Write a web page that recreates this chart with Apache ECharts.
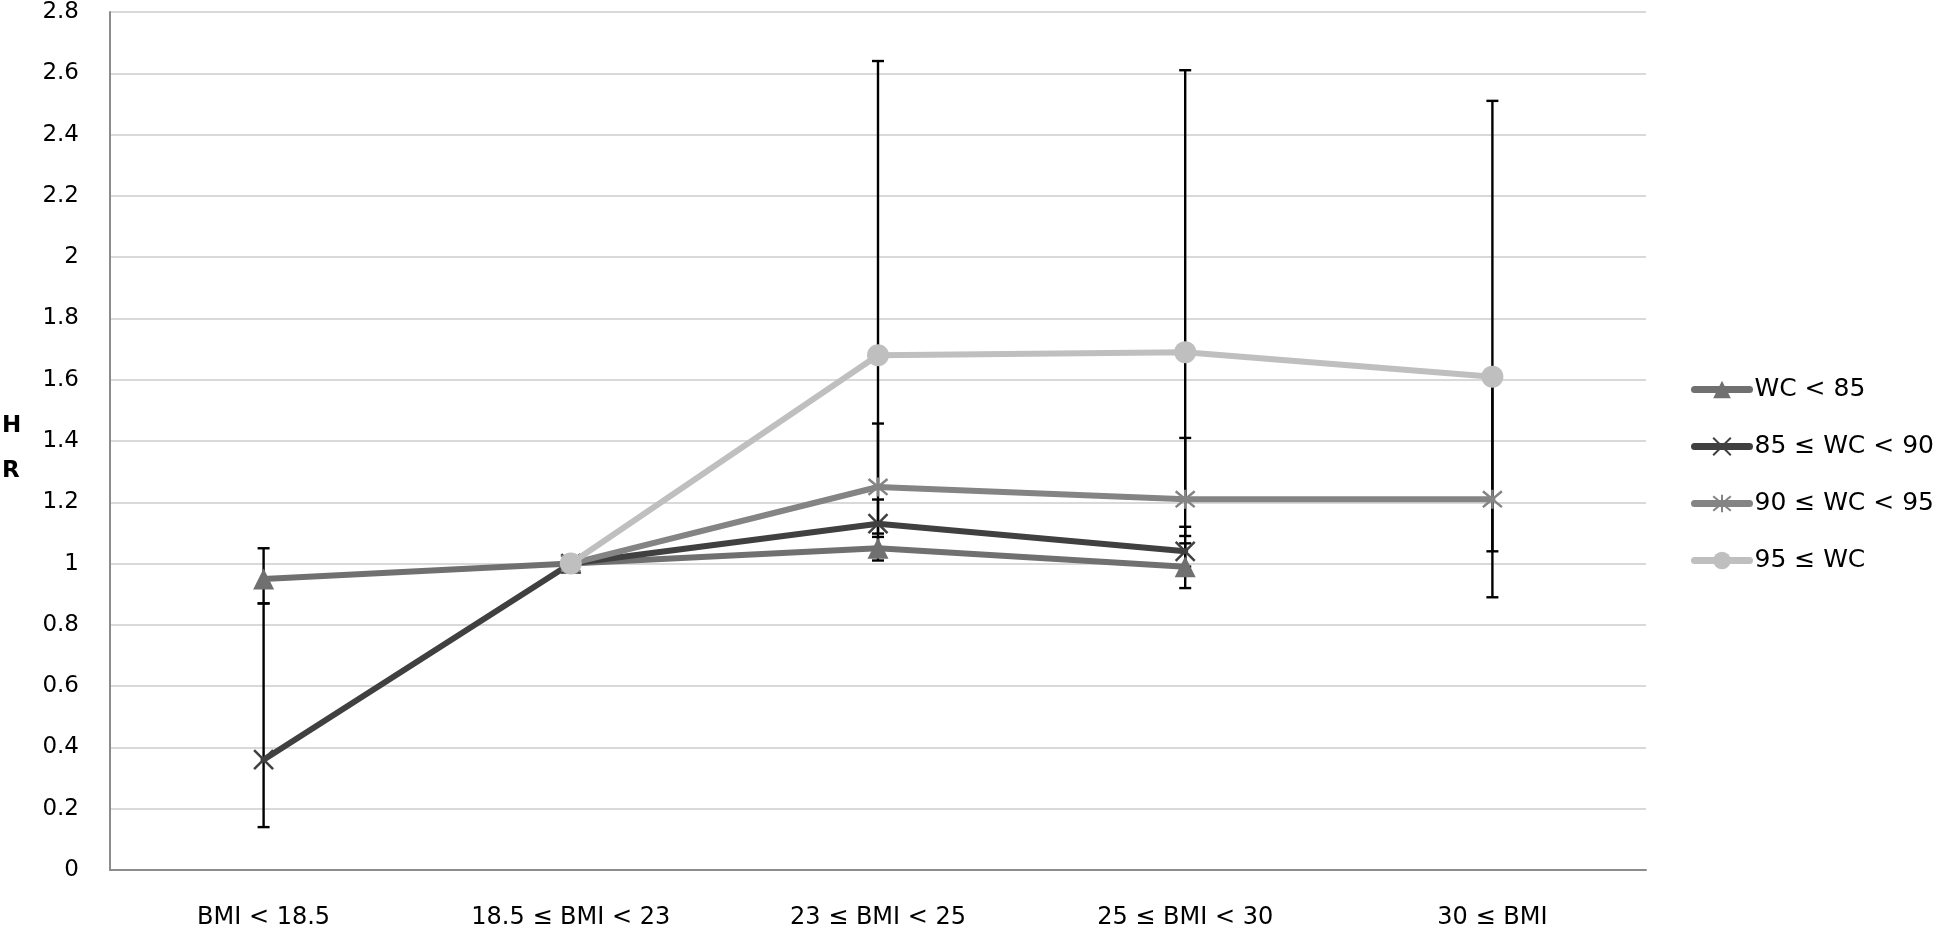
<!DOCTYPE html>
<html>
<head>
<meta charset="utf-8">
<script src="https://cdn.jsdelivr.net/npm/echarts@6/dist/echarts.min.js"></script>
<style>
html,body{margin:0;padding:0;background:#fff;}
#chart{width:1946px;height:931px;}
</style>
</head>
<body>
<div id="chart"></div>
<script>
const categories = ['BMI < 18.5', '18.5 ≤ BMI < 23', '23 ≤ BMI < 25', '25 ≤ BMI < 30', '30 ≤ BMI'];
const seriesNames = ['WC < 85', '85 ≤ WC < 90', '90 ≤ WC < 95', '95 ≤ WC'];

const wc85 = [0.95, 1.0, 1.05, 0.99, null];
const wc85Low = [0.87, null, 1.01, 0.92, null];
const wc85High = [1.05, null, 1.087, 1.066, null];

const wc85to90 = [0.36, 1.0, 1.13, 1.04, null];
const wc85to90Low = [0.14, null, 1.05, 0.99, null];
const wc85to90High = [0.87, null, 1.209, 1.12, null];

const wc90to95 = [null, 1.0, 1.25, 1.21, 1.21];
const wc90to95Low = [null, null, 1.098, 1.09, 0.89];
const wc90to95High = [null, null, 1.457, 1.41, 1.61];

const wc95 = [null, 1.0, 1.68, 1.69, 1.61];
const wc95Low = [null, null, 1.25, 1.21, 1.04];
const wc95High = [null, null, 2.64, 2.61, 2.51];

const yTicks = {min: 0, max: 2.8, interval: 0.2};

const colors = ['#707070', '#404040', '#848484', '#bfbfbf'];

function ciData(lo, hi) {
  const out = [];
  for (let i = 0; i < lo.length; i++) {
    if (lo[i] != null && hi[i] != null) out.push([i, lo[i], hi[i]]);
  }
  return out;
}
const allCI = [].concat(
  ciData(wc85Low, wc85High),
  ciData(wc85to90Low, wc85to90High),
  ciData(wc90to95Low, wc90to95High),
  ciData(wc95Low, wc95High)
);

const font = "'DejaVu Sans', 'Noto Sans', sans-serif";
const chart = echarts.init(document.getElementById('chart'), null, {renderer: 'canvas'});

function lineSeries(name, data, color, symbol, size, extra) {
  return Object.assign({
    name: name,
    type: 'line',
    data: data,
    symbol: symbol,
    symbolSize: size,
    showAllSymbol: true,
    connectNulls: false,
    lineStyle: {color: color, width: 6, cap: 'round', join: 'round'},
    itemStyle: {color: color, borderColor: color, borderWidth: 0},
    z: 3,
    animation: false
  }, extra || {});
}

const option = {
  animation: false,
  backgroundColor: '#fff',
  grid: {left: 110, right: 300, top: 12, bottom: 61, containLabel: false},
  legend: {
    orient: 'vertical',
    left: 1686,
    top: 372,
    itemWidth: 55,
    itemHeight: 22,
    itemGap: 32,
    lineStyle: {width: 7, cap: 'round'},
    textStyle: {fontFamily: font, fontSize: 25, color: '#000'},
    data: seriesNames
  },
  xAxis: {
    type: 'category',
    data: categories,
    boundaryGap: true,
    axisLine: {lineStyle: {color: '#8c8c8c', width: 2}},
    axisTick: {show: false},
    axisLabel: {fontFamily: font, fontSize: 24, color: '#000', margin: 36, interval: 0}
  },
  yAxis: {
    type: 'value',
    min: yTicks.min,
    max: yTicks.max,
    interval: yTicks.interval,
    axisLine: {show: true, lineStyle: {color: '#8c8c8c', width: 2}},
    axisTick: {show: false},
    splitLine: {lineStyle: {color: '#d9d9d9', width: 2}},
    axisLabel: {fontFamily: font, fontSize: 23, color: '#000', margin: 31}
  },
  graphic: [{
    type: 'text',
    left: 2,
    top: 404,
    style: {text: 'H\nR', fontFamily: font, fontSize: 23, fontWeight: 'bold', fill: '#000', lineHeight: 45, align: 'center', width: 22}
  }],
  series: [
    {
      type: 'custom',
      name: 'CI',
      data: allCI,
      encode: {x: 0, y: [1, 2]},
      z: 2,
      silent: true,
      renderItem: function (params, api) {
        const x = api.value(0), lo = api.value(1), hi = api.value(2);
        const pHi = api.coord([x, hi]);
        const pLo = api.coord([x, lo]);
        const w = 6;
        const st = {stroke: '#000', lineWidth: 2.4};
        return {
          type: 'group',
          children: [
            {type: 'line', shape: {x1: pHi[0], y1: pHi[1], x2: pLo[0], y2: pLo[1]}, style: st},
            {type: 'line', shape: {x1: pHi[0] - w, y1: pHi[1], x2: pHi[0] + w, y2: pHi[1]}, style: st},
            {type: 'line', shape: {x1: pLo[0] - w, y1: pLo[1], x2: pLo[0] + w, y2: pLo[1]}, style: st}
          ]
        };
      }
    },
    lineSeries(seriesNames[0], wc85, colors[0], 'triangle', 21),
    lineSeries(seriesNames[1], wc85to90, colors[1], 'path://M0,0L10,10M10,0L0,10', 19,
      {itemStyle: {color: 'rgba(0,0,0,0)', borderColor: colors[1], borderWidth: 2.5}}),
    lineSeries(seriesNames[2], wc90to95, colors[2], 'path://M0,0L10,10M10,0L0,10M5,-1L5,11', 19,
      {itemStyle: {color: 'rgba(0,0,0,0)', borderColor: colors[2], borderWidth: 2.5}}),
    lineSeries(seriesNames[3], wc95, colors[3], 'circle', 22, {z: 4})
  ]
};
chart.setOption(option);
</script>
</body>
</html>
